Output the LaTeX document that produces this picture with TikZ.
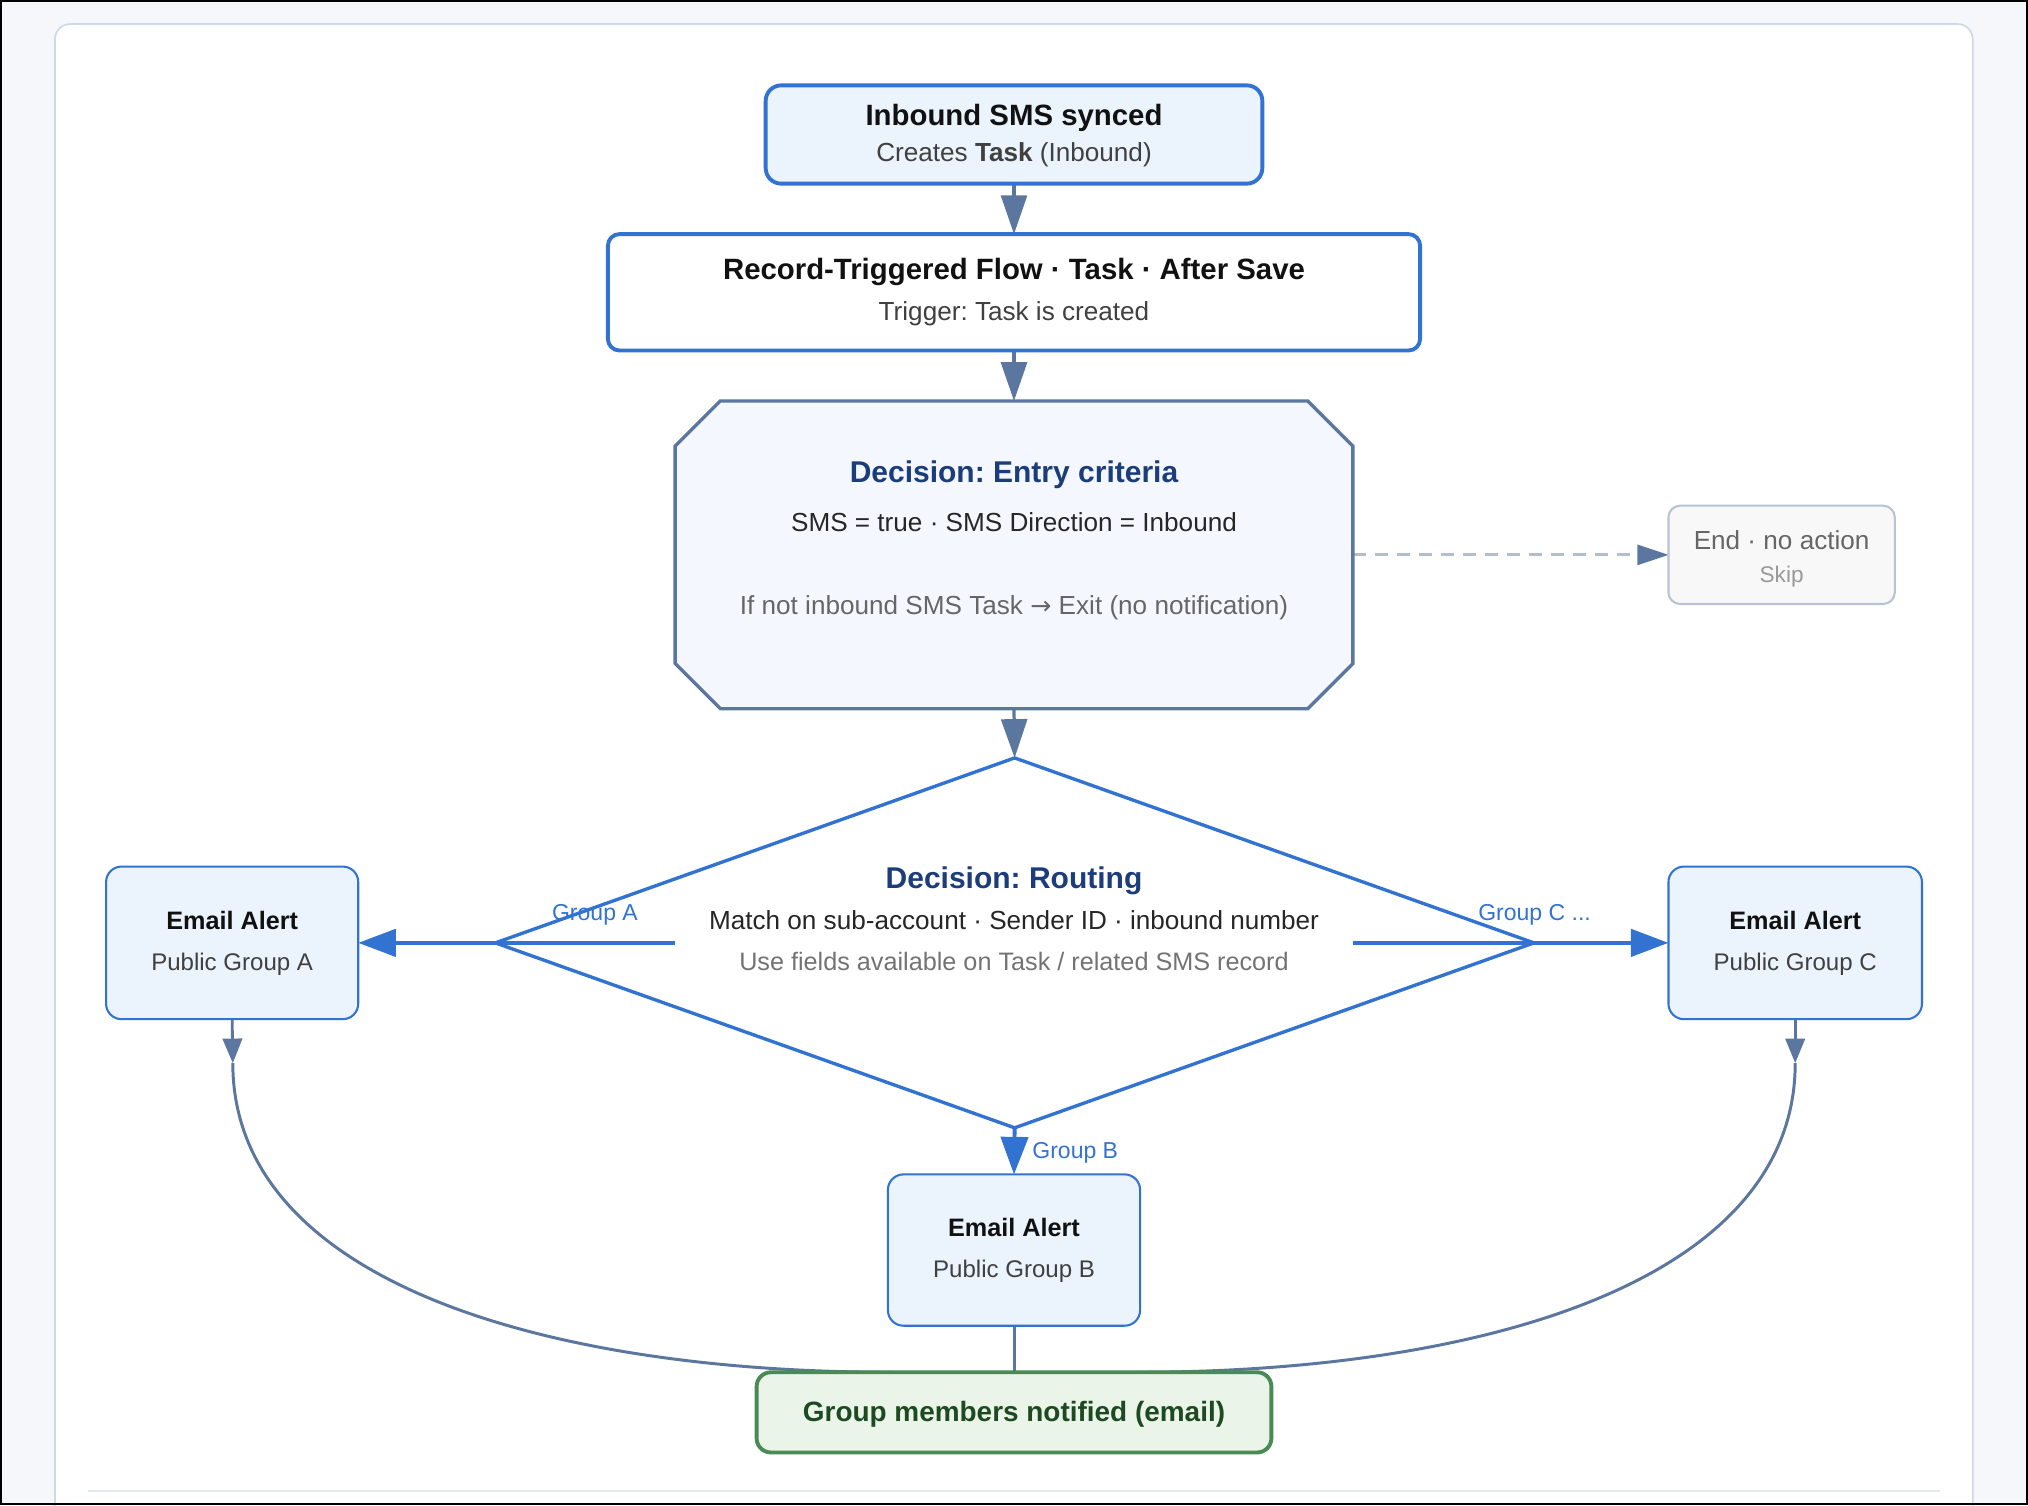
\documentclass[tikz,border=0pt]{standalone}
\usepackage{fontspec}
\setmainfont{Liberation Sans}
\newfontfamily\arrowfont{DejaVu Sans}
\usetikzlibrary{arrows.meta}
\definecolor{bgc}{HTML}{F6F7FB}
\definecolor{cardc}{HTML}{CFD8E6}
\definecolor{rulec}{HTML}{E3E8EF}
\definecolor{blu}{HTML}{3273D1}
\definecolor{lblu}{HTML}{EBF3FD}
\definecolor{octf}{HTML}{F4F8FE}
\definecolor{slate}{HTML}{5C779F}
\definecolor{navy}{HTML}{1B3D7B}
\definecolor{tcol}{HTML}{111111}
\definecolor{subc}{HTML}{404040}
\definecolor{greyt}{HTML}{666666}
\definecolor{lgreyt}{HTML}{999999}
\definecolor{dashc}{HTML}{B3BDCC}
\definecolor{endb}{HTML}{B8C3D3}
\definecolor{endf}{HTML}{F8F8F8}
\definecolor{grnb}{HTML}{4A8A55}
\definecolor{grnf}{HTML}{EAF4E8}
\definecolor{grnt}{HTML}{1E4A23}
\frenchspacing
\begin{document}
\begin{tikzpicture}[x=1pt,y=-1pt,
  box/.style={rectangle, inner sep=0pt, outer sep=0pt},
  titletxt/.style={font=\fontsize{22.7}{26}\selectfont\bfseries, text=tcol, inner sep=0pt, anchor=base},
  subtxt/.style={font=\fontsize{20.2}{24}\selectfont, text=subc, inner sep=0pt, anchor=base},
  navytxt/.style={font=\fontsize{23.2}{26}\selectfont\bfseries, text=navy, inner sep=0pt, anchor=base},
  emtitle/.style={font=\fontsize{19.5}{23}\selectfont\bfseries, text=tcol, inner sep=0pt, anchor=base},
  emsub/.style={font=\fontsize{18.6}{22}\selectfont, text=subc, inner sep=0pt, anchor=base},
  grplbl/.style={font=\fontsize{17.8}{21}\selectfont, text=blu, inner sep=0pt, anchor=base},
  slatearrow/.style={draw=slate, line width=2.5pt, -{Triangle[length=30pt,width=20pt]}},
  bluearrow/.style={draw=blu, line width=3pt, -{Triangle[length=29pt,width=21pt]}},
  smallarrow/.style={draw=slate, line width=2.2pt, -{Triangle[length=19pt,width=15pt]}},
  curveline/.style={draw=slate, line width=2.3pt}
]
\useasboundingbox (0,0) rectangle (1568,1164);
\fill[bgc] (0,0) rectangle (1568,1164);
\begin{scope}
\clip (0,0) rectangle (1568,1164);
\filldraw[fill=white, draw=cardc, line width=1.3pt, rounded corners=11.6pt] (42.5,18.6) rectangle (1525.2,1220);
\end{scope}
\draw[rulec, line width=1.5pt] (68,1152.5) -- (1500,1152.5);

% box nodes
\node[box, minimum width=384pt, minimum height=76pt] (n1) at (784,104) {};
\node[box, minimum width=628pt, minimum height=90pt] (n2) at (784,226) {};
\node[box, minimum width=524pt, minimum height=238pt] (oct) at (784,429) {};
\node[box, minimum width=175pt, minimum height=76pt] (endn) at (1377.5,429) {};
\node[box, minimum width=803pt, minimum height=286pt] (dia) at (784.5,729) {};
\node[box, minimum width=195pt, minimum height=118pt] (ea) at (179.5,729) {};
\node[box, minimum width=196pt, minimum height=118pt] (ec) at (1388,729) {};
\node[box, minimum width=195pt, minimum height=117pt] (eb) at (784,966.5) {};
\node[box, minimum width=398pt, minimum height=62pt] (fin) at (784,1092) {};

\coordinate (diaL) at (522,729);
\coordinate (diaR) at (1046,729);
\coordinate (octE) at (1046,429);
\coordinate (aTip) at (180,822);
\coordinate (cTip) at (1388,822);
\coordinate (finL) at (690,1061);
\coordinate (finR) at (878,1061);

% connectors
\draw[slatearrow] (n1.south) -- (n2.north);
\draw[slatearrow] (n2.south) -- (oct.north);
\draw[slatearrow] (oct.south) -- (dia.north);
\draw[dashc, line width=2.2pt, dash pattern=on 10pt off 7pt] (octE) -- ([xshift=-24pt]endn.west);
\draw[draw=none, fill=slate] (endn.west) -- ++(-24,-8) -- ++(0,16) -- cycle;

\draw[bluearrow] (diaL) -- (ea.east);
\draw[bluearrow] (diaR) -- (ec.west);
\draw[bluearrow] (dia.south) -- (eb.north);

\draw[smallarrow] (ea.south) -- (aTip);
\draw[smallarrow] (ec.south) -- (cTip);
\draw[curveline] (aTip) .. controls (180,990) and (420,1061) .. (finL);
\draw[curveline] (cTip) .. controls (1388,990) and (1148,1061) .. (finR);
\draw[curveline] (eb.south) -- (fin.north);

% shapes
\filldraw[fill=lblu, draw=blu, line width=3pt, rounded corners=12pt] (n1.south west) rectangle (n1.north east);
\filldraw[fill=white, draw=blu, line width=3pt, rounded corners=9pt] (n2.south west) rectangle (n2.north east);
\filldraw[fill=octf, draw=slate, line width=2.6pt, line join=miter]
  ([xshift=35pt]oct.north west) -- ([xshift=-35pt]oct.north east) -- ([yshift=-35pt]oct.north east)
  -- ([yshift=35pt]oct.south east) -- ([xshift=-35pt]oct.south east) -- ([xshift=35pt]oct.south west)
  -- ([yshift=35pt]oct.south west) -- ([yshift=-35pt]oct.north west) -- cycle;
\filldraw[fill=endf, draw=endb, line width=1.6pt, rounded corners=9pt] (endn.south west) rectangle (endn.north east);
\draw[blu, line width=2.6pt, line join=miter] (dia.north) -- (dia.west) -- (dia.south) -- (dia.east) -- cycle;
\filldraw[fill=lblu, draw=blu, line width=1.6pt, rounded corners=12pt] (ea.south west) rectangle (ea.north east);
\filldraw[fill=lblu, draw=blu, line width=1.6pt, rounded corners=12pt] (ec.south west) rectangle (ec.north east);
\filldraw[fill=lblu, draw=blu, line width=1.6pt, rounded corners=12pt] (eb.south west) rectangle (eb.north east);
\filldraw[fill=grnf, draw=grnb, line width=3pt, rounded corners=11pt] (fin.south west) rectangle (fin.north east);

% texts
\node[titletxt] (n1a) at (784,97) {Inbound SMS synced};
\node[subtxt] (n1b) at (784,125) {Creates \textbf{\color{black!75}Task} (Inbound)};
\node[titletxt] (n2a) at (784,216) {Record-Triggered Flow · Task · After Save};
\node[subtxt] (n2b) at (784,248) {Trigger: Task is created};
\node[navytxt] (octa) at (784,373) {Decision: Entry criteria};
\node[subtxt, text=black!85] (octb) at (784,411) {SMS = true · SMS Direction = Inbound};
\node[subtxt, text=greyt] (octc) at (784,475) {If not inbound SMS Task {\arrowfont\fontsize{19.5}{22}\selectfont →} Exit (no notification)};
\node[subtxt, text=greyt] (enda) at (1377.5,425) {End · no action};
\node[subtxt, font=\fontsize{17.5}{21}\selectfont, text=lgreyt] (endb) at (1377.5,450) {Skip};
\node[navytxt] (diaa) at (784,687) {Decision: Routing};
\node[subtxt, text=black!85] (diab) at (784,719) {Match on sub-account · Sender ID · inbound number};
\node[subtxt, font=\fontsize{19.5}{23}\selectfont, text=black!55] (diac) at (784,750) {Use fields available on Task / related SMS record};
\node[emtitle] (eaa) at (179.5,719) {Email Alert};
\node[emsub] (eab) at (179.5,750) {Public Group A};
\node[emtitle] (eca) at (1388,719) {Email Alert};
\node[emsub] (ecb) at (1388,750) {Public Group C};
\node[emtitle] (eba) at (784,956) {Email Alert};
\node[emsub] (ebb) at (784,988) {Public Group B};
\node[titletxt, font=\fontsize{21.6}{25}\selectfont\bfseries, text=grnt] (fina) at (784,1099) {Group members notified (email)};
\node[grplbl] (gA) at (460,712) {Group A};
\node[grplbl] (gC) at (1186.5,712) {Group C ...};
\node[grplbl, anchor=base west] (gB) at (798,896) {Group B};

\draw[black, line width=1.6pt] (0.8,0.8) rectangle (1567.2,1163.2);
\end{tikzpicture}
\end{document}
